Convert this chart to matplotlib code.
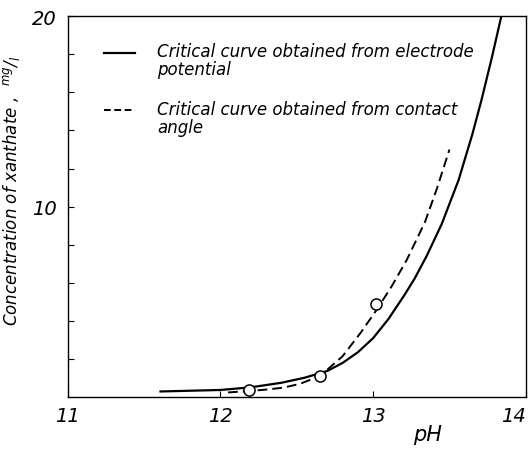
import numpy as np
import matplotlib
matplotlib.use("Agg")
import matplotlib.pyplot as plt
from matplotlib.ticker import FixedLocator

plt.rcParams['font.family'] = ['DejaVu Sans']
plt.rcParams['font.style'] = 'italic'

# critical curve from electrode potential
ph_elec = [11.60, 12.00, 12.20, 12.40, 12.55, 12.70, 12.80, 12.90, 13.00, 13.10, 13.20,
           13.27, 13.35, 13.45, 13.56, 13.65, 13.71, 13.78, 13.84]
conc_elec = [0.30, 0.38, 0.52, 0.76, 1.02, 1.38, 1.80, 2.36, 3.10, 4.10, 5.30,
             6.20, 7.40, 9.10, 11.40, 13.80, 15.60, 17.90, 20.0]

# critical curve from contact angle
ph_cont = [12.05, 12.19, 12.30, 12.41, 12.52, 12.60, 12.70, 12.80, 12.92, 13.02,
           13.12, 13.22, 13.34, 13.42, 13.50]
conc_cont = [0.25, 0.33, 0.40, 0.50, 0.70, 0.95, 1.45, 2.15, 3.40, 4.55,
             5.80, 7.20, 9.20, 11.0, 13.0]

# measured points
ph_pts = [12.19, 12.65, 13.02]
conc_pts = [0.37, 1.12, 4.9]

xticks = [11, 12, 13, 14]
yticks = [10, 20]
yminor = [2, 4, 6, 8, 12, 14, 16, 18]

fig = plt.figure(figsize=(5.30, 4.52), dpi=100)
ax = fig.add_axes([0.128, 0.119, 0.864, 0.843])

ax.plot(ph_elec, conc_elec, color='black', lw=1.6, solid_capstyle='butt')
ax.plot(ph_cont, conc_cont, color='black', lw=1.4, dashes=(5, 2.6))
ax.plot(ph_pts, conc_pts, 'o', ms=8, mfc='white', mec='black', mew=1.1, zorder=5)

ax.set_xlim(11, 14)
ax.set_ylim(0, 20)
ax.set_xticks(xticks)
ax.set_xticklabels([str(t) for t in xticks], fontsize=14)
ax.get_xticklabels()[-1].set_horizontalalignment('right')
ax.set_yticks(yticks)
ax.set_yticklabels([str(t) for t in yticks], fontsize=14)
ax.yaxis.set_minor_locator(FixedLocator(yminor))
ax.tick_params(which='both', direction='in', length=4, width=0.8, color='black')
ax.tick_params(axis='x', pad=6)
ax.tick_params(axis='y', pad=8)
for sp in ax.spines.values():
    sp.set_linewidth(1.0)

ax.set_xlabel('pH', fontsize=15)
ax.xaxis.set_label_coords(0.785, -0.07)
ax.set_ylabel('Concentration of xanthate ,  $^{mg}/_{l}$', fontsize=12)
ax.yaxis.set_label_coords(-0.1, 0.545)

# legend drawn by hand
ax.plot([11.24, 11.44], [18.05, 18.05], color='black', lw=1.6)
ax.plot([11.24, 11.44], [15.1, 15.1], color='black', lw=1.4, dashes=(3.5, 1.8))
ax.text(11.585, 17.7, 'Critical curve obtained from electrode\npotential',
        fontsize=12, va='center', ha='left', linespacing=0.95)
ax.text(11.585, 14.65, 'Critical curve obtained from contact\nangle',
        fontsize=12, va='center', ha='left', linespacing=0.95)

fig.savefig('out.png', dpi=100)
